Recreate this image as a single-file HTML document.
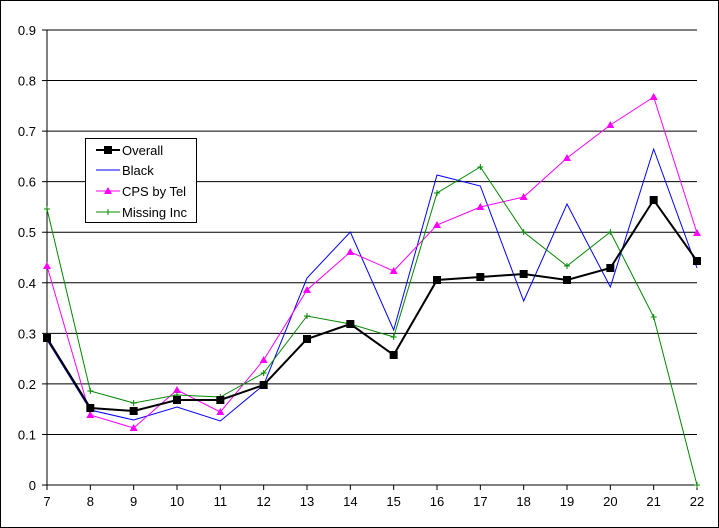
<!DOCTYPE html>
<html><head><meta charset="utf-8"><style>body{margin:0;background:#fff}svg{display:block}text{font-family:"Liberation Sans",sans-serif;font-size:13px}</style></head>
<body>
<svg id="s" width="719" height="528" xmlns="http://www.w3.org/2000/svg">
<rect x="0.5" y="0.5" width="718" height="527" fill="#fff" stroke="#000"/>
</svg>
<script>
const s=document.getElementById('s');let h='';
const X=i=>47+i*650/15, Y=v=>485-v*455/0.9;
for(let k=1;k<=9;k++){const y=Y(k/10);h+=`<line x1="47" x2="697" y1="${y}" y2="${y}" stroke="#000"/>`;}
h+=`<line x1="47" x2="47" y1="30" y2="485" stroke="#000"/><line x1="47" x2="697" y1="485" y2="485" stroke="#000"/>`;
for(let k=0;k<=9;k++){const y=Y(k/10);h+=`<line x1="42" x2="47" y1="${y}" y2="${y}" stroke="#000"/><text x="36" y="${y+5}" text-anchor="end">${k?(k/10).toFixed(1):'0'}</text>`;}
for(let i=0;i<16;i++){const x=X(i);h+=`<line x1="${x}" x2="${x}" y1="485" y2="490" stroke="#000"/><text x="${x}" y="506" text-anchor="middle">${i+7}</text>`;}
const d={
bl:[340,410,420,407,421,385,278,232,330,175,186,301,204,287,149,268],
cp:[266,415,428,390,412,360,290,252,271,225,207,197,158,125,97,233],
mi:[209,391,403,395,397,373,316,324,337,193,167,232,266,232,317,485],
ov:[338,408,411,400,400,385,339,324,355,280,277,274,280,268,200,261]};
const pl=(a,c,w)=>`<polyline fill="none" stroke="${c}" stroke-width="${w}" points="${a.map((y,i)=>X(i)+','+y).join(' ')}"/>`;
h+=pl(d.bl,'#00f',1);
h+=pl(d.cp,'#f0f',1);d.cp.forEach((y,i)=>{const x=X(i);h+=`<polygon points="${x},${y-4} ${x-4},${y+3} ${x+4},${y+3}" fill="#f0f"/>`});
h+=pl(d.mi,'#080',1);d.mi.forEach((y,i)=>{const x=X(i);h+=`<path d="M${x-3} ${y}h6M${x} ${y-3}v6" stroke="#080"/>`});
h+=pl(d.ov,'#000',2);d.ov.forEach((y,i)=>{const x=X(i);h+=`<rect x="${x-4}" y="${y-4}" width="8" height="8" fill="#000"/>`});
h+=`<rect x="85.5" y="138.5" width="111" height="84" fill="#fff" stroke="#000"/>`;
const L=[['Overall','#000',150],['Black','#00f',170],['CPS by Tel','#f0f',191],['Missing Inc','#080',212]];
L.forEach(([t,c,y],j)=>{h+=`<line x1="96" x2="120" y1="${y}" y2="${y}" stroke="${c}" stroke-width="${j?1:2}"/><text x="122" y="${y+5}">${t}</text>`;
if(j==0)h+=`<rect x="104" y="${y-4}" width="8" height="8" fill="#000"/>`;
if(j==2)h+=`<polygon points="108,${y-4} 104,${y+3} 112,${y+3}" fill="#f0f"/>`;
if(j==3)h+=`<path d="M108 ${y-3}v6" stroke="#080"/>`;});
s.innerHTML+=h;
</script>
</body></html>
